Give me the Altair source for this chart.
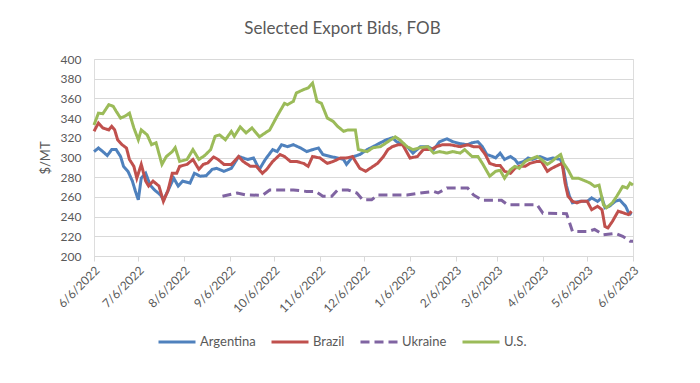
import altair as alt
import pandas as pd

START = "2022-06-06"

names = ["Argentina", "Brazil", "Ukraine", "U.S."]
colors = ["#4F81BD", "#C0504D", "#8064A2", "#9BBB59"]
dashes = [[1, 0], [1, 0], [9, 5], [1, 0]]

tick_dates = ["2022-06-06", "2022-07-06", "2022-08-06", "2022-09-06", "2022-10-06",
              "2022-11-06", "2022-12-06", "2023-01-06", "2023-02-06", "2023-03-06",
              "2023-04-06", "2023-05-06", "2023-06-06"]
y_ticks = [200, 220, 240, 260, 280, 300, 320, 340, 360, 380, 400]

# days after 6/6/2022
arg_days = [0, 3, 6, 9, 12, 15, 18, 20, 23, 26, 28, 30, 32, 35, 38, 41, 45, 47, 50, 54,
            57, 60, 65, 68, 72, 76, 80, 83, 88, 93, 98, 101, 104, 108, 112, 116, 121, 124,
            127, 131, 135, 140, 144, 148, 152, 155, 160, 165, 169, 171, 175, 180, 185, 189,
            194, 198, 202, 205, 209, 213, 216, 221, 226, 230, 234, 239, 243, 248, 253, 256,
            260, 263, 266, 270, 272, 275, 278, 282, 285, 287, 291, 294, 297, 302, 307, 311,
            316, 318, 320, 322, 324, 329, 334, 337, 341, 344, 346, 349, 353, 356, 360, 362,
            364]
arg_vals = [306, 309.6, 306, 302, 308, 308, 301, 291, 286, 276, 266, 257, 279, 284, 272,
            267, 262, 257, 266, 279, 271, 276, 274, 284, 281, 281.5, 288, 289, 286, 289, 301,
            299.5, 298, 299.5, 288, 298, 308, 306, 313, 311, 313, 309.6, 306, 308, 309.6, 303,
            301, 299.5, 298, 293, 300.5, 303, 308, 311, 315, 318, 320, 316, 313, 309.6, 304.5,
            311, 311, 308, 316, 319, 316, 314, 313, 315, 316, 311, 303, 301, 299.5, 304.5, 298,
            301, 298, 294, 296, 299.5, 298, 301, 298, 299.5, 298, 288, 271, 260.6, 254, 255.5,
            255.5, 259, 255.5, 259, 249, 250.5, 255.5, 257, 250.5, 244, 242]

bra_days = [0, 3, 6, 10, 12, 14, 16, 19, 22, 24, 27, 29, 32, 35, 37, 40, 44, 47, 50, 53, 56,
            58, 63, 67, 71, 74, 77, 81, 84, 88, 93, 98, 101, 106, 110, 114, 117, 121, 126, 129,
            133, 137, 142, 145, 148, 153, 158, 162, 167, 171, 175, 180, 184, 187, 192, 196,
            199, 202, 206, 209, 214, 219, 223, 228, 232, 236, 241, 248, 253, 257, 261, 265,
            268, 272, 275, 278, 282, 285, 288, 292, 295, 300, 303, 307, 310, 314, 317, 319,
            321, 324, 327, 330, 334, 337, 341, 344, 346, 348, 351, 355, 358, 362, 364]
bra_vals = [326.6, 335, 330, 328, 331.6, 328, 318, 313, 309.6, 298, 291, 279, 293, 276, 271,
            276, 271, 255.5, 266, 284, 284, 291, 293, 298, 288, 293, 294.4, 300.5, 298, 293,
            293, 301, 296, 291, 291, 284, 288, 296, 303, 301, 296, 296, 294, 291, 301, 299.5,
            294, 296, 299.5, 299.5, 301, 289, 286, 289, 294, 301, 308, 311, 313, 313, 299.5,
            301, 308, 308, 311, 313, 313, 311, 313, 311, 311, 303, 294, 292, 292, 286, 284,
            289, 291, 291, 294, 296, 296, 286, 289, 292, 294, 274, 260.6, 255.5, 254, 255.5,
            255.5, 247, 250.5, 247, 230, 228.5, 235, 245.5, 244, 242, 245.5]

ukr_days = [87, 97, 103, 114, 119, 126, 135, 144, 150, 155, 161, 165, 172, 178, 182, 188,
            192, 202, 212, 221, 230, 233, 239, 248, 253, 257, 263, 276, 280, 300, 304, 320,
            324, 335, 339, 345, 353, 358, 363, 365]
ukr_vals = [260.6, 264, 262, 261.6, 267, 267, 267, 265.6, 265.6, 260.6, 260.6, 267, 267, 264,
            257, 257, 262, 262, 262, 264, 265.6, 264, 269, 269, 269, 262, 256.5, 256.5, 252,
            252, 243.5, 243, 225, 225, 227, 221.6, 223, 220, 215, 215]

us_days = [0, 3, 6, 10, 13, 15, 18, 21, 24, 27, 30, 32, 36, 39, 42, 46, 49, 53, 55, 58, 63,
           67, 71, 75, 79, 82, 85, 89, 93, 95, 99, 103, 107, 112, 119, 124, 129, 131, 135, 137,
           142, 145, 148, 151, 154, 158, 162, 165, 169, 172, 177, 179, 185, 189, 194, 198, 204,
           207, 212, 216, 221, 226, 230, 234, 239, 243, 248, 251, 256, 260, 263, 268, 272, 275,
           278, 282, 285, 288, 292, 295, 300, 303, 307, 310, 314, 316, 318, 321, 324, 328, 333,
           336, 339, 342, 345, 347, 351, 354, 358, 361, 363, 365]
us_vals = [333, 345, 344.5, 353.6, 352, 347, 340, 342, 345, 330, 318, 328, 323, 313, 315, 293,
           301, 306, 310, 296, 298, 308, 298, 302, 308, 321.5, 323, 318, 326.5, 321.5, 331, 325,
           330, 321, 328, 342, 355, 353.6, 357, 365.5, 369, 370.6, 375.6, 357, 355, 340, 336.7,
           331.6, 326.6, 328, 328, 308, 306, 310, 311, 315, 321, 318, 311, 308, 310, 311, 304.5,
           306, 304.5, 306, 304.5, 308, 301, 301, 294, 281, 286, 287, 279, 287.6, 291, 289, 296,
           298, 301, 298, 293, 296, 301, 303, 294, 287.6, 279, 279, 276, 274, 270.6, 272, 252,
           249, 254, 260.6, 270.6, 269, 274, 272]


def frame(name, days, vals):
    d = pd.Timestamp(START, tz="UTC") + pd.to_timedelta(days, unit="D")
    return pd.DataFrame({"date": d.strftime("%Y-%m-%d"), "value": vals, "country": name})


df = pd.concat([
    frame("Argentina", arg_days, arg_vals),
    frame("Brazil", bra_days, bra_vals),
    frame("Ukraine", ukr_days, ukr_vals),
    frame("U.S.", us_days, us_vals),
], ignore_index=True)

tick_ms = [int(pd.Timestamp(t, tz="UTC").value // 10**6) for t in tick_dates]

FONT = "Lato"
GREY = "#595959"

legend = alt.Legend(title=None, orient="none", legendX=63, legendY=263,
                    direction="horizontal", symbolType="stroke",
                    symbolSize=1369, symbolStrokeWidth=3,
                    labelFont=FONT, labelFontSize=13, labelColor=GREY,
                    labelOffset=3, columnPadding=9)

chart = alt.Chart(df).mark_line(strokeWidth=3).encode(
    x=alt.X("date:T",
            scale=alt.Scale(type="utc", domain=[tick_ms[0], tick_ms[-1]]),
            axis=alt.Axis(values=tick_ms,
                          labelExpr="utcFormat(datum.value, '%-m/%-d/%Y')",
                          labelAngle=-45, labelAlign="right", labelBaseline="middle",
                          labelPadding=7, labelOffset=3, labelFontSize=12, labelColor=GREY,
                          labelFont=FONT, grid=False, domainColor="#D9D9D9",
                          tickColor="#D9D9D9", tickSize=5, labelOverlap=False, title=None)),
    y=alt.Y("value:Q",
            scale=alt.Scale(domain=[200, 400]),
            axis=alt.Axis(values=y_ticks, title="$/MT", titleFont=FONT, titleFontSize=13,
                          titleFontWeight="normal", titleColor=GREY, titlePadding=8,
                          labelFontSize=12, labelColor=GREY, labelFont=FONT, labelPadding=13,
                          domain=False, ticks=False, gridColor="#D9D9D9", gridWidth=1)),
    color=alt.Color("country:N", scale=alt.Scale(domain=names, range=colors), legend=legend),
    strokeDash=alt.StrokeDash("country:N", scale=alt.Scale(domain=names, range=dashes),
                              legend=legend),
).properties(
    width=539,
    height=197,
    title=alt.TitleParams("Selected Export Bids, FOB", font=FONT, fontSize=17,
                          fontWeight="normal", color=GREY, anchor="middle", frame="group",
                          dx=-21, offset=2, baseline="alphabetic"),
    autosize=alt.AutoSizeParams(type="none"),
    padding={"left": 86, "top": 51, "right": 59, "bottom": 119},
).configure_view(stroke=None).configure(background="white")

chart.save("out.html", embed_options={"renderer": "svg", "actions": False})
